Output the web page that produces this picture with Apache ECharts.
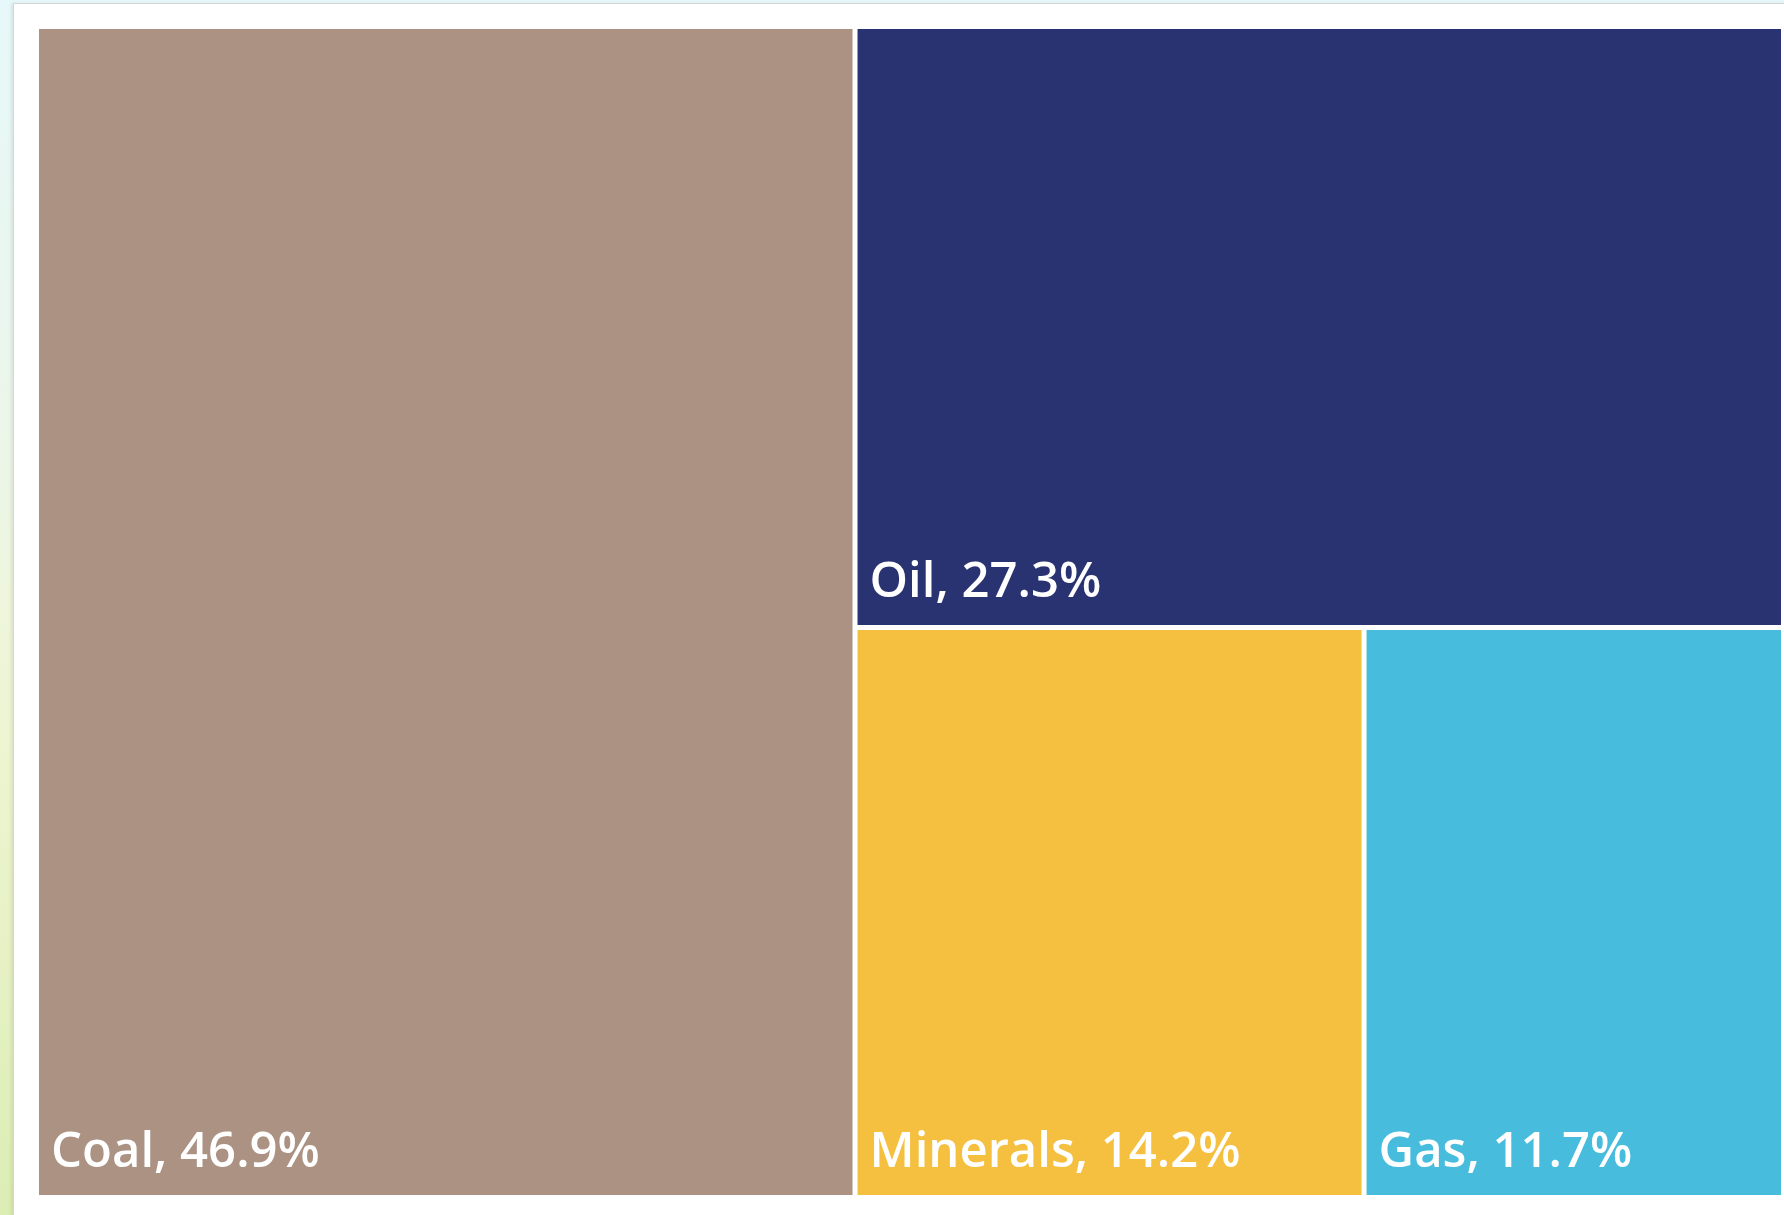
<!DOCTYPE html>
<html>
<head>
<meta charset="utf-8">
<title>Share by commodity</title>
<script src="https://cdn.jsdelivr.net/npm/echarts@6/dist/echarts.min.js"></script>
<style>
  html, body { margin: 0; padding: 0; width: 1784px; height: 1215px; overflow: hidden; }
  body { background: linear-gradient(180deg, #e6f8f9 0%, #ecf6ea 35%, #eef5d2 60%, #dcedb4 100%); position: relative; }
  #panel { position: absolute; left: 13px; top: 3px; right: -2px; bottom: -2px; background: #ffffff;
           border: 1px solid #d6d6d6; box-shadow: -2px 0 3px rgba(0,0,0,0.08); }
  #chart { position: absolute; left: 0; top: 0; width: 1784px; height: 1215px; }
</style>
</head>
<body>
<div id="panel"></div>
<div id="chart"></div>
<script>
// Commodity shares (percent)
const categories = ['Coal', 'Oil', 'Minerals', 'Gas'];
const shares = [46.9, 27.3, 14.2, 11.7];
const palette = ['#ab9283', '#293371', '#f5c040', '#48bcdd'];

const chart = echarts.init(document.getElementById('chart'), null, { renderer: 'canvas' });

chart.setOption({
  backgroundColor: 'transparent',
  animation: false,
  tooltip: { show: false },
  series: [{
    type: 'treemap',
    left: 39,
    top: 29,
    width: 1742,
    height: 1166,
    roam: false,
    nodeClick: false,
    breadcrumb: { show: false },
    sort: 'desc',
    squareRatio: 1,
    itemStyle: { borderWidth: 0, gapWidth: 5, borderColor: '#ffffff' },
    label: {
      show: true,
      position: 'insideBottomLeft',
      distance: 12,
      padding: [0, 0, 5, 0],
      color: '#ffffff',
      fontFamily: '"Open Sans", "Noto Sans", sans-serif',
      fontWeight: 600,
      fontSize: 49,
      formatter: p => p.name + ', ' + p.value.toFixed(1) + '%'
    },
    emphasis: { disabled: true },
    data: categories.map((name, i) => ({
      name: name,
      value: shares[i],
      itemStyle: { color: palette[i] }
    }))
  }]
});
</script>
</body>
</html>
